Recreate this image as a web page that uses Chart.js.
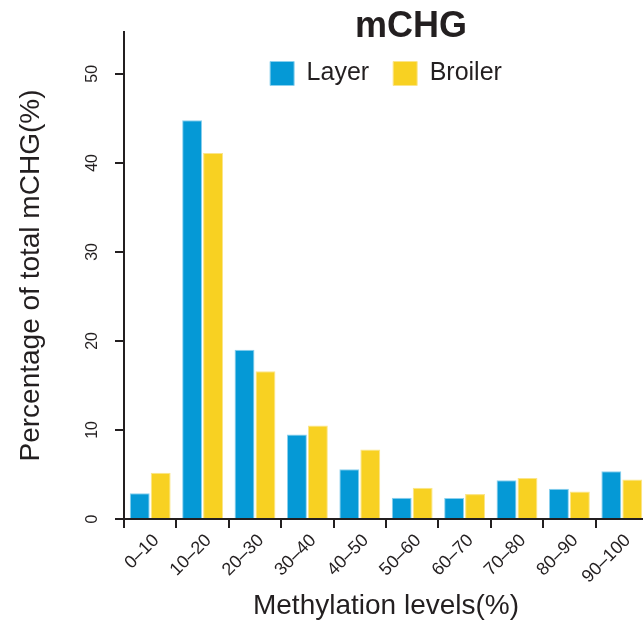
<!DOCTYPE html>
<html>
<head>
<meta charset="utf-8">
<script src="https://cdn.jsdelivr.net/npm/chart.js@4/dist/chart.umd.min.js"></script>
<style>
  html, body { margin: 0; padding: 0; background: #ffffff; overflow: hidden; }
  #wrap { position: absolute; left: 0; top: 0; width: 670px; height: 626px; }
</style>
</head>
<body>
<div id="wrap"><canvas id="chart" width="670" height="626"></canvas></div>
<script>
// Methylation level bins (x categories)
const categories = ['0–10', '10–20', '20–30', '30–40', '40–50', '50–60', '60–70', '70–80', '80–90', '90–100'];
// Share of total mCHG (%) in each bin
const layerValues   = [2.9, 44.8, 19.0, 9.5, 5.6, 2.4, 2.35, 4.35, 3.4, 5.35];
const broilerValues = [5.2, 41.1, 16.6, 10.5, 7.8, 3.5, 2.8, 4.6, 3.1, 4.45];
// Y axis ticks
const yTicks = [0, 10, 20, 30, 40, 50];

const ink = '#231f20';
const FONT = '"Liberation Sans", Arial, Helvetica, sans-serif';
const LEGEND_PAD = 24;
const LEGEND_FONT = 25;
const PLOT_TOP = 32;
const LEGEND_ITEM_TOP = 61;

// Bold panel heading, plus moving the legend row down inside the plot
const headingPlugin = {
  id: 'heading',
  afterLayout(chart) {
    const lg = chart.legend;
    if (!lg) return;
    const dy = LEGEND_ITEM_TOP - (lg.top + LEGEND_PAD);
    lg.top += dy;
    lg.bottom += dy;
    if (lg.adjustHitBoxes) lg.adjustHitBoxes();
  },
  afterDraw(chart) {
    const ctx = chart.ctx;
    ctx.save();
    ctx.fillStyle = ink;
    ctx.font = 'bold 36px ' + FONT;
    ctx.textAlign = 'center';
    ctx.textBaseline = 'middle';
    ctx.fillText('mCHG', 411, 27);
    ctx.restore();
  }
};

// Room the legend row takes in the box layout (one row: pad + item + 10)
const legendHeight = LEGEND_PAD + LEGEND_FONT + 10;

new Chart(document.getElementById('chart'), {
  type: 'bar',
  data: {
    labels: categories,
    datasets: [
      {
        label: 'Layer',
        data: layerValues,
        backgroundColor: '#0599d6',
        borderColor: '#8ad0ee',
        borderWidth: 1,
        categoryPercentage: 0.8,
        barPercentage: 0.95
      },
      {
        label: 'Broiler',
        data: broilerValues,
        backgroundColor: '#f8d122',
        borderColor: '#fbe58a',
        borderWidth: 1,
        categoryPercentage: 0.8,
        barPercentage: 0.95
      }
    ]
  },
  options: {
    responsive: false,
    animation: false,
    layout: { padding: { top: PLOT_TOP - legendHeight, right: 22, left: 0, bottom: 0 } },
    plugins: {
      tooltip: { enabled: false },
      title: { display: false },
      legend: {
        position: 'top',
        align: 'center',
        fullSize: false,
        labels: {
          color: ink,
          font: { family: FONT, size: LEGEND_FONT },
          boxWidth: 24,
          boxHeight: 24,
          padding: LEGEND_PAD
        }
      }
    },
    scales: {
      x: {
        type: 'category',
        offset: true,
        grid: {
          display: true,
          offset: true,
          drawOnChartArea: false,
          drawTicks: true,
          tickLength: 9,
          tickWidth: 2,
          tickColor: ink,
          color: ink,
          lineWidth: 2
        },
        border: { display: true, color: ink, width: 2 },
        ticks: {
          color: ink,
          font: { family: FONT, size: 18 },
          minRotation: 45,
          maxRotation: 45,
          autoSkip: false,
          labelOffset: 6,
          padding: 2
        },
        title: {
          display: true,
          text: 'Methylation levels(%)',
          color: ink,
          font: { family: FONT, size: 28 },
          padding: { top: 0, bottom: 3 }
        },
        afterFit(scale) { scale.height = 107; }
      },
      y: {
        min: 0,
        max: 54.7,
        afterBuildTicks(scale) { scale.ticks = yTicks.map(v => ({ value: v })); },
        grid: {
          display: true,
          drawOnChartArea: false,
          drawTicks: true,
          tickLength: 9,
          tickWidth: 2,
          tickColor: ink,
          color: ink,
          lineWidth: 2
        },
        border: { display: true, color: ink, width: 2 },
        ticks: {
          color: ink,
          font: { family: FONT, size: 16 },
          minRotation: 90,
          maxRotation: 90,
          crossAlign: 'center',
          padding: 14
        },
        title: {
          display: true,
          text: 'Percentage of total mCHG(%)',
          color: ink,
          font: { family: FONT, size: 28 },
          padding: { top: 14, bottom: 0 }
        },
        afterFit(scale) { scale.width = 124; }
      }
    }
  },
  plugins: [headingPlugin]
});
</script>
</body>
</html>
